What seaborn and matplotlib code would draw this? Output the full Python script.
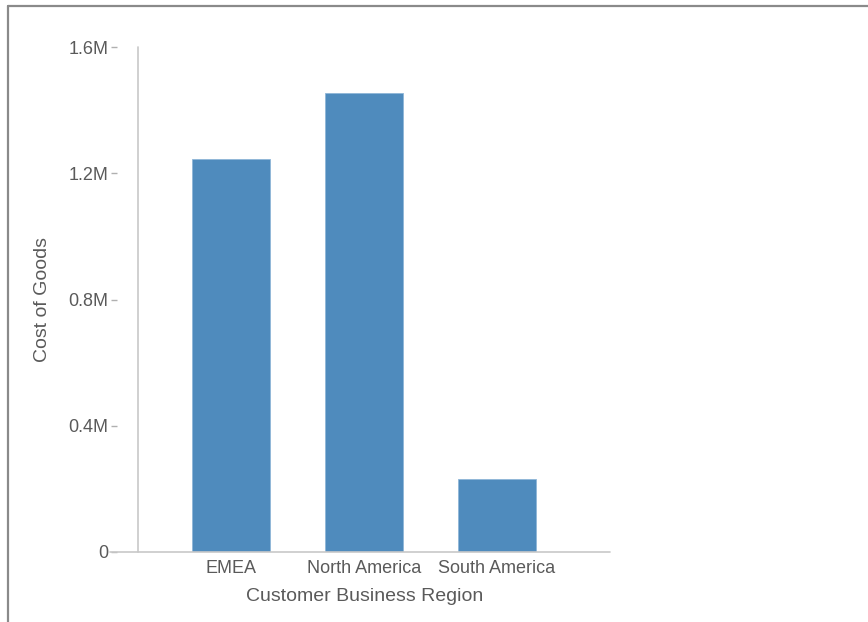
import matplotlib
matplotlib.use("Agg")
import matplotlib.pyplot as plt
import seaborn as sns
import pandas as pd
from matplotlib.lines import Line2D

regions = ["EMEA", "North America", "South America"]
cost_of_goods = [1244000, 1453000, 232000]
y_ticks = [0, 400000, 800000, 1200000, 1600000]
y_tick_labels = ["0", "0.4M", "0.8M", "1.2M", "1.6M"]

sns.set_theme(style="white")
plt.rcParams["font.family"] = ["Liberation Sans", "DejaVu Sans"]

W, H = 868, 622
fig = plt.figure(figsize=(W / 100, H / 100), dpi=100)
ax = fig.add_axes([138 / W, 1 - 552 / H, (610 - 138) / W, (552 - 47) / H])

df = pd.DataFrame({"region": regions, "cost": cost_of_goods})
sns.barplot(data=df, x="region", y="cost", color="#4f8bbd", saturation=1,
            width=0.59, ax=ax, edgecolor="#8fb6d8", linewidth=0.6)

sp = 132.7
ax.set_xlim((138 - 231.3) / sp, 2 + (610 - 496.7) / sp)
ax.set_ylim(0, 1600000)
ax.set_yticks(y_ticks)
ax.set_yticklabels(y_tick_labels)

text_color = "#5a5a5a"
line_color = "#c8c8c8"
for s in ["top", "right", "bottom"]:
    ax.spines[s].set_visible(False)
ax.spines["left"].set_position(("outward", 21 * 0.72))
ax.spines["left"].set_visible(False)

ax.tick_params(axis="y", length=4.5, width=1, color="#b0b0b0", pad=1.5,
               labelsize=13, labelcolor=text_color, left=True)
ax.tick_params(axis="x", length=0, pad=6, labelsize=13, labelcolor=text_color)

# axis lines
ax.add_line(Line2D([0, 0], [0, 1], transform=ax.transAxes, color=line_color,
                   lw=1.2, clip_on=False))
ax.add_line(Line2D([(110 - 138) / (610 - 138), 1], [0, 0], transform=ax.transAxes,
                   color=line_color, lw=1.2, clip_on=False))

ax.set_xlabel("Customer Business Region", fontsize=14, color=text_color)
ax.xaxis.set_label_coords((364.5 - 138) / (610 - 138), -(588 - 552) / (552 - 47))
ax.xaxis.label.set_va("top")
ax.set_ylabel("Cost of Goods", fontsize=14, color=text_color, labelpad=13)
ax.grid(False)

# frame border
fig.add_artist(Line2D([7.5 / W, 1], [1 - 5.5 / H, 1 - 5.5 / H], transform=fig.transFigure,
                      color="#8a8a8a", lw=1.6))
fig.add_artist(Line2D([7.5 / W, 7.5 / W], [0, 1 - 5.5 / H], transform=fig.transFigure,
                      color="#8a8a8a", lw=1.6))

fig.savefig("out.png", dpi=100)
